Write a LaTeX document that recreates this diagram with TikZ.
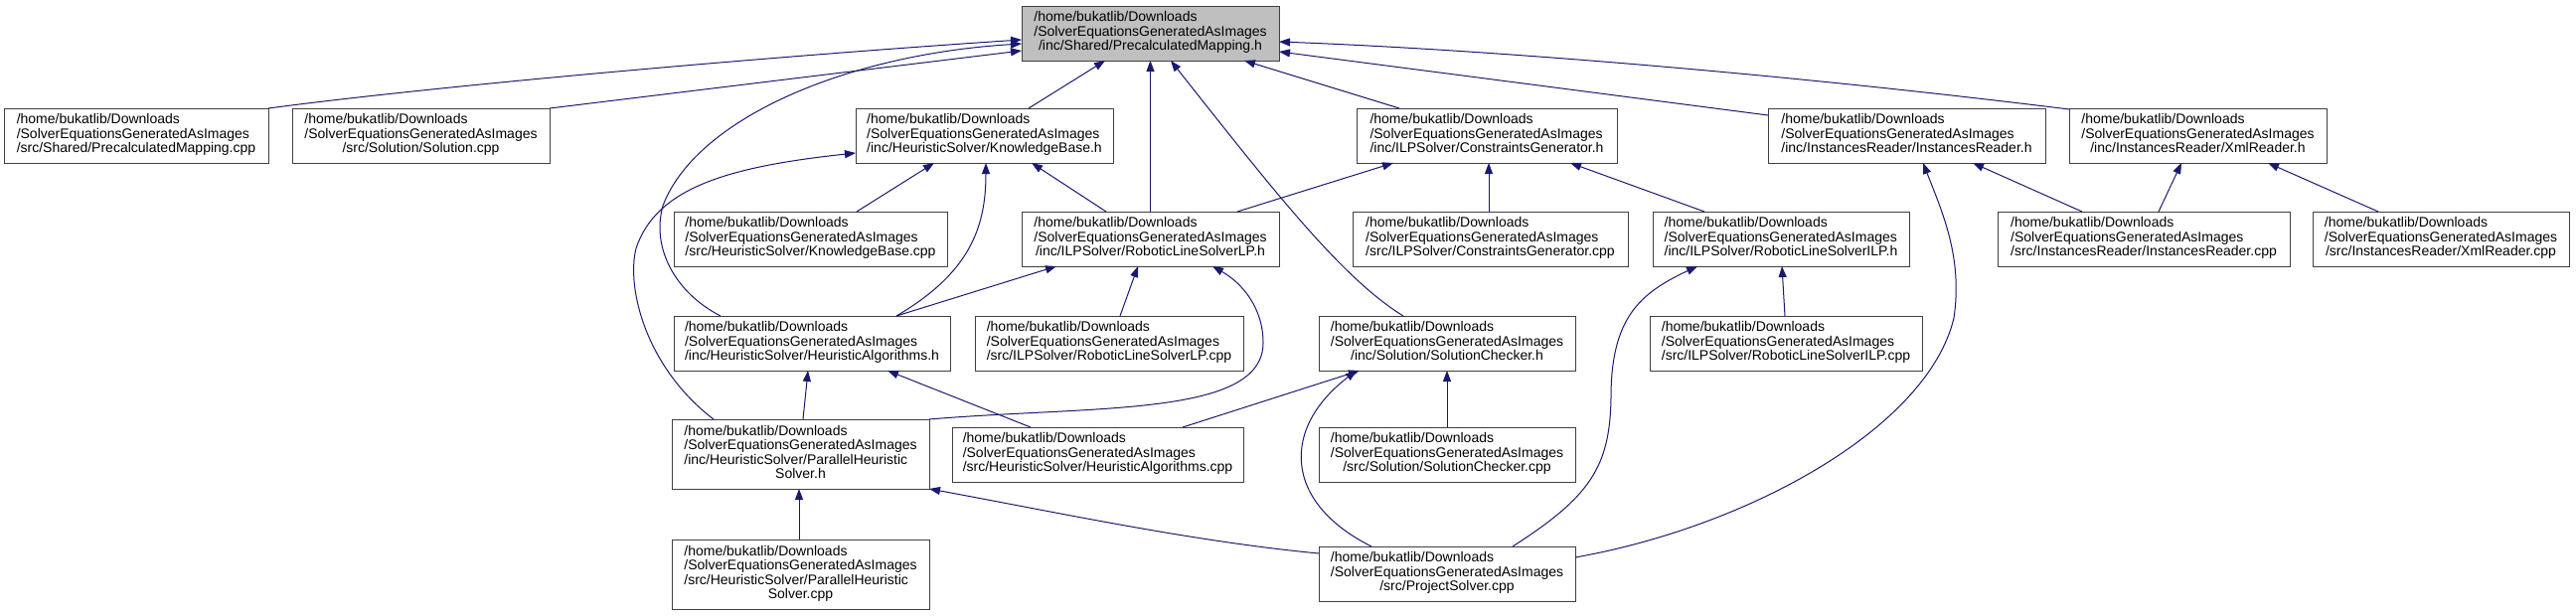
\documentclass[tikz,border=0pt]{standalone}
\usepackage{fontspec}
\setmainfont{Liberation Sans}
\usetikzlibrary{arrows.meta,calc}
\definecolor{edgeblue}{HTML}{191970}
\definecolor{boxline}{HTML}{404040}
\definecolor{mainfill}{HTML}{BFBFBF}
\newcommand{\tri}[1]{\begin{tabular}{@{}l@{}}/home/bukatlib/Downloads\\/SolverEquationsGeneratedAsImages\\\multicolumn{1}{@{}c@{}}{#1}\end{tabular}}
\newcommand{\quadl}[2]{\begin{tabular}{@{}l@{}}/home/bukatlib/Downloads\\/SolverEquationsGeneratedAsImages\\#1\\\multicolumn{1}{@{}c@{}}{#2}\end{tabular}}
\tikzset{
  box/.style={draw=boxline, line width=1pt, fill=white, anchor=north west, inner sep=0pt, outer sep=0pt, minimum height=55pt, font=\fontsize{14}{14.5}\selectfont},
  mainbox/.style={box, fill=mainfill},
  edge/.style={draw=edgeblue, line width=1pt, -{Triangle[length=11pt,width=8pt]}}
}
\begin{document}
\begin{tikzpicture}[x=1pt,y=-1pt]
\useasboundingbox (0,0) rectangle (2592,619);
\fill[white] (0,0) rectangle (2592,619);
% row 0
\node[mainbox, minimum width=259pt] (main) at (1028,6) {\tri{/inc/Shared/PrecalculatedMapping.h}};
% row 1
\node[box, minimum width=266pt] (pmcpp) at (4,109) {\tri{/src/Shared/PrecalculatedMapping.cpp}};
\node[box, minimum width=259pt] (solcpp) at (294,109) {\tri{/src/Solution/Solution.cpp}};
\node[box, minimum width=259pt] (kbh) at (861,109) {\tri{/inc/HeuristicSolver/KnowledgeBase.h}};
\node[box, minimum width=262pt] (cgh) at (1365,109) {\tri{/inc/ILPSolver/ConstraintsGenerator.h}};
\node[box, minimum width=279pt] (irh) at (1779,109) {\tri{/inc/InstancesReader/InstancesReader.h}};
\node[box, minimum width=259pt] (xrh) at (2082,109) {\tri{/inc/InstancesReader/XmlReader.h}};
% row 2
\node[box, minimum width=275pt] (kbcpp) at (678,213) {\tri{/src/HeuristicSolver/KnowledgeBase.cpp}};
\node[box, minimum width=259pt] (lph) at (1028,213) {\tri{/inc/ILPSolver/RoboticLineSolverLP.h}};
\node[box, minimum width=277pt] (cgcpp) at (1361,213) {\tri{/src/ILPSolver/ConstraintsGenerator.cpp}};
\node[box, minimum width=258pt] (ilph) at (1663,213) {\tri{/inc/ILPSolver/RoboticLineSolverILP.h}};
\node[box, minimum width=294pt] (ircpp) at (2010,213) {\tri{/src/InstancesReader/InstancesReader.cpp}};
\node[box, minimum width=258pt] (xrcpp) at (2327,213) {\tri{/src/InstancesReader/XmlReader.cpp}};
% row 3
\node[box, minimum width=278pt] (hah) at (678,318) {\tri{/inc/HeuristicSolver/HeuristicAlgorithms.h}};
\node[box, minimum width=270pt] (rlpcpp) at (981,318) {\tri{/src/ILPSolver/RoboticLineSolverLP.cpp}};
\node[box, minimum width=258pt] (sch) at (1327,318) {\tri{/inc/Solution/SolutionChecker.h}};
\node[box, minimum width=274pt] (ilpcpp) at (1660,318) {\tri{/src/ILPSolver/RoboticLineSolverILP.cpp}};
% row 4
\node[box, minimum width=259pt, minimum height=70pt] (phsh) at (676,422) {\quadl{/inc/HeuristicSolver/ParallelHeuristic}{Solver.h}};
\node[box, minimum width=293pt] (hacpp) at (958,430) {\tri{/src/HeuristicSolver/HeuristicAlgorithms.cpp}};
\node[box, minimum width=258pt] (sccpp) at (1327,430) {\tri{/src/Solution/SolutionChecker.cpp}};
% row 5
\node[box, minimum width=259pt, minimum height=70pt] (phscpp) at (676,543) {\quadl{/src/HeuristicSolver/ParallelHeuristic}{Solver.cpp}};
\node[box, minimum width=258pt] (pscpp) at (1327,550) {\tri{/src/ProjectSolver.cpp}};
% edges to main
\draw[edge] (pmcpp.north east) .. controls (450,85) and (800,55) .. ($(main.north west)+(0,34)$);
\draw[edge] (solcpp.north east) -- ($(main.north west)+(0,45)$);
\draw[edge] ($(kbh.north west)+(174,0)$) -- ($(main.south west)+(84,0)$);
\draw[edge] ($(hah.north west)+(47,0)$) .. controls (680,295) and (655,250) .. (667,207) .. controls (700,120) and (850,55) .. ($(main.north west)+(0,38)$);
\draw[edge] (lph.north) -- (main.south);
\draw[edge] ($(sch.north west)+(85,0)$) .. controls (1350,280) and (1280,190) .. ($(main.south west)+(150,0)$);
\draw[edge] ($(cgh.north west)+(43,0)$) -- ($(main.south west)+(224,0)$);
\draw[edge] ($(irh.north west)+(0,7)$) -- ($(main.north east)+(0,46)$);
\draw[edge] ($(xrh.north west)+(0,1)$) .. controls (1800,75) and (1500,50) .. ($(main.north east)+(0,36)$);
% edges to KnowledgeBase.h
\draw[edge] ($(kbcpp.north west)+(184,0)$) -- ($(kbh.south west)+(79,0)$);
\draw[edge] ($(hah.north west)+(224,0)$) .. controls (975,275) and (992,230) .. ($(kbh.south west)+(131,0)$);
\draw[edge] ($(lph.north west)+(85,0)$) -- ($(kbh.south west)+(177,0)$);
\draw[edge] ($(phsh.north west)+(42,0)$) .. controls (650,370) and (630,290) .. (640,250) .. controls (660,190) and (730,168) .. ($(kbh.north west)+(0,45)$);
% edges to RoboticLineSolverLP.h
\draw[edge] ($(hah.north west)+(224,0)$) -- ($(lph.south west)+(35,0)$);
\draw[edge] ($(rlpcpp.north west)+(146,0)$) -- ($(lph.south west)+(117,0)$);
\draw[edge] (phsh.north east) .. controls (1100,408) and (1271,420) .. (1271,345) .. controls (1271,310) and (1250,285) .. ($(lph.south west)+(192,0)$);
% edges to ConstraintsGenerator.h
\draw[edge] ($(lph.north west)+(217,0)$) -- ($(cgh.south west)+(37,0)$);
\draw[edge] ($(cgcpp.north west)+(137,0)$) -- ($(cgh.south west)+(133,0)$);
\draw[edge] ($(ilph.north west)+(52,0)$) -- ($(cgh.south west)+(215,0)$);
% edges to InstancesReader.h / XmlReader.h
\draw[edge] ($(ircpp.north west)+(85,0)$) -- ($(irh.south west)+(206,0)$);
\draw[edge] ($(pscpp.north east)+(0,11)$) .. controls (1760,530) and (1940,430) .. (1966,320) .. controls (1975,260) and (1955,215) .. ($(irh.south west)+(156,0)$);
\draw[edge] ($(ircpp.north west)+(162,0)$) -- ($(xrh.south west)+(113,0)$);
\draw[edge] ($(xrcpp.north west)+(66,0)$) -- ($(xrh.south west)+(200,0)$);
% edges to RoboticLineSolverILP.h
\draw[edge] ($(ilpcpp.north west)+(136,0)$) -- ($(ilph.south west)+(130,0)$);
\draw[edge] ($(pscpp.north west)+(195,0)$) .. controls (1600,500) and (1620,470) .. (1621,400) .. controls (1621,320) and (1650,295) .. ($(ilph.south west)+(45,0)$);
% edges to HeuristicAlgorithms.h
\draw[edge] ($(phsh.north west)+(132,0)$) -- ($(hah.south west)+(135,0)$);
\draw[edge] ($(hacpp.north west)+(79,0)$) -- ($(hah.south west)+(215,0)$);
% edges to SolutionChecker.h
\draw[edge] ($(hacpp.north west)+(232,0)$) -- ($(sch.south west)+(41,0)$);
\draw[edge] ($(sccpp.north west)+(129,0)$) -- ($(sch.south west)+(129,0)$);
\draw[edge] ($(pscpp.north west)+(53,0)$) .. controls (1290,505) and (1290,430) .. ($(sch.south west)+(38,0)$);
% edges to ParallelHeuristicSolver.h
\draw[edge] ($(phscpp.north west)+(128,0)$) -- ($(phsh.south west)+(128,0)$);
\draw[edge] ($(pscpp.north west)+(0,7)$) .. controls (1200,545) and (1060,515) .. (phsh.south east);
\end{tikzpicture}
\end{document}
